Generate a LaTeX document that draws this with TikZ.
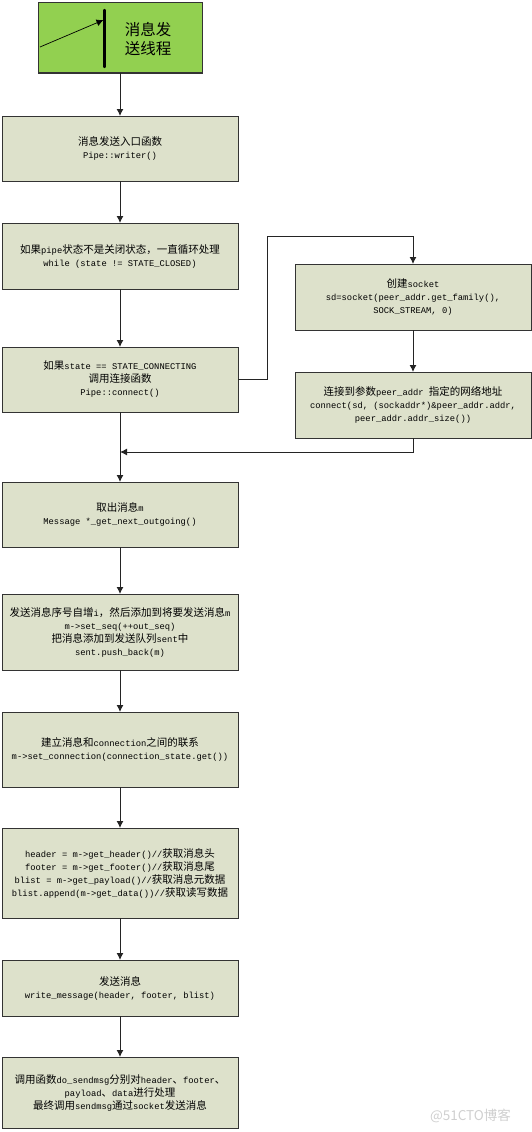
\documentclass[tikz,border=0pt]{standalone}
\usepackage{fontspec}
\setmainfont{Liberation Mono}
\newfontfamily\cjk{Noto Sans CJK SC}
\newcommand{\cn}[1]{{\cjk\fontsize{10.5}{13}\selectfont #1}}
\newcommand{\procfont}{\fontsize{8.8}{13}\selectfont\setlength{\lineskiplimit}{-6pt}}
\usepackage{xcolor}
\usepackage{tikz}
\usetikzlibrary{arrows.meta,positioning}
\definecolor{threadgreen}{HTML}{92D050}
\definecolor{procfill}{HTML}{DDE1CB}
\definecolor{edgegray}{HTML}{333333}
\definecolor{markgray}{HTML}{CFCFCF}

\begin{document}
\begin{tikzpicture}[
    x=1pt, y=1pt,
    proc/.style={rectangle, draw=edgegray, fill=procfill, line width=1pt, minimum width=236pt, inner sep=0pt, outer sep=0pt, align=center, font=\procfont},
    thread/.style={rectangle, draw=edgegray, fill=threadgreen, line width=1pt, minimum width=164pt, minimum height=70pt, inner sep=0pt, outer sep=0pt},
    arrow/.style={-{Latex[length=7pt,width=7pt]}, line width=1pt, color=edgegray!70!black}
]
  \useasboundingbox (0,0) rectangle (532,-1132);

  \node[thread] (start) at (120,-38) {};
  \node[proc, minimum height=65pt, below=43pt of start] (writer) {\cn{消息发送入口函数}\\Pipe::writer()};
  \node[proc, minimum height=66pt, below=42pt of writer] (loop) {\cn{如果}pipe\cn{状态不是关闭状态，一直循环处理}\\while (state != STATE\_CLOSED)};
  \node[proc, minimum height=65pt, below=58pt of loop] (check) {\cn{如果}state == STATE\_CONNECTING\\\cn{调用连接函数}\\Pipe::connect()};
  \node[proc, minimum height=65pt, below=70pt of check] (fetch) {\cn{取出消息}m\\Message *\_get\_next\_outgoing()};
  \node[proc, minimum height=76pt, below=47pt of fetch] (seq) {\cn{发送消息序号自增}i\cn{，然后添加到将要发送消息}m\\m->set\_seq(++out\_seq)\\\cn{把消息添加到发送队列}sent\cn{中}\\sent.push\_back(m)};
  \node[proc, minimum height=75pt, below=42pt of seq] (link) {\cn{建立消息和}connection\cn{之间的联系}\\m->set\_connection(connection\_state.get())};
  \node[proc, minimum height=90pt, below=41pt of link] (parts) {header = m->get\_header()//\cn{获取消息头}\\footer = m->get\_footer()//\cn{获取消息尾}\\blist = m->get\_payload()//\cn{获取消息元数据}\\blist.append(m->get\_data())//\cn{获取读写数据}};
  \node[proc, minimum height=56pt, below=42pt of parts] (send) {\cn{发送消息}\\write\_message(header, footer, blist)};
  \node[proc, minimum height=71pt, below=41pt of send] (final) {\cn{调用函数}do\_sendmsg\cn{分别对}header\cn{、}footer\cn{、}\\payload\cn{、}data\cn{进行处理}\\\cn{最终调用}sendmsg\cn{通过}socket\cn{发送消息}};

  % Connect branch on the right
  \node[proc, minimum height=66pt, right=57pt of loop, yshift=-41pt] (create) {\cn{创建}socket\\sd=socket(peer\_addr.get\_family(),\\SOCK\_STREAM, 0)};
  \node[proc, minimum height=66pt, below=42pt of create] (connect) {\cn{连接到参数}peer\_addr \cn{指定的网络地址}\\connect(sd, (sockaddr*)\&peer\_addr.addr,\\peer\_addr.addr\_size())};

  % Thread symbol
  \coordinate (bartop) at (104.5,-10);
  \coordinate (barbot) at (104.5,-67);
  \coordinate (tail) at (40,-47);
  \coordinate (tip) at (103.5,-20);
  \node[font=\cjk\fontsize{15.5}{19}\selectfont, align=center, inner sep=0pt] (threadname) at (148,-39.5) {消息发\\送线程};
  \draw[line width=2.4pt, line cap=round] (bartop) -- (barbot);
  \draw[-{Latex[length=7pt,width=7pt]}, line width=0.7pt] (tail) -- (tip);

  \draw[arrow] (start) -- (writer);
  \draw[arrow] (writer) -- (loop);
  \draw[arrow] (loop) -- (check);
  \draw[arrow] (check) -- (fetch);
  \draw[arrow] (fetch) -- (seq);
  \draw[arrow] (seq) -- (link);
  \draw[arrow] (link) -- (parts);
  \draw[arrow] (parts) -- (send);
  \draw[arrow] (send) -- (final);

  \coordinate (turn) at (267,-236);
  \coordinate (merge) at (120,-452);
  \draw[arrow] (check.east) -| (turn) -| (create.north);
  \draw[arrow] (create) -- (connect);
  \draw[arrow] (connect.south) |- (merge);

  \node[font=\cjk\fontsize{13.5}{16}\selectfont, text=markgray, inner sep=0pt] (mark) at (470.5,-1116) {@51CTO博客};
\end{tikzpicture}
\end{document}
